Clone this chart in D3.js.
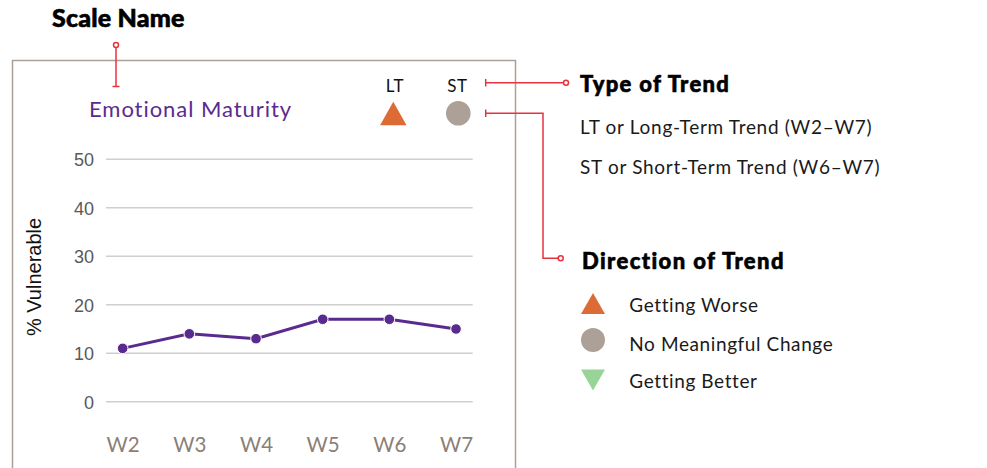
<!DOCTYPE html>
<html><head><meta charset="utf-8">
<script src="https://cdn.jsdelivr.net/npm/d3@7"></script>
<style>body{margin:0;background:#fff}svg{display:block}</style>
</head><body>
<svg id="c" width="987" height="468"></svg>
<script>
const categories = ["W2","W3","W4","W5","W6","W7"];
const values = [11,14,13,17,17,15];
const yTicks = [0,10,20,30,40,50];
const scaleName = "Emotional Maturity";
const trendTypes = ["LT","ST"];
const trendTypeDescriptions = ["LT or Long-Term Trend (W2–W7)","ST or Short-Term Trend (W6–W7)"];
const directionLabels = ["Getting Worse","No Meaningful Change","Getting Better"];
const directionShapes = ["up","circle","down"];
const trendStatus = ["up","circle"]; // LT, ST

const colors = {up:"#dd6b36", circle:"#ada197", down:"#98d398"};
const red = "#e8323e";
const purple = "#5a2b8e";
const lato = "Lato, 'Noto Sans', sans-serif";

const svg = d3.select("#c");

svg.append("rect").attr("x",12.5).attr("y",60.5).attr("width",503).attr("height",430)
  .attr("fill","none").attr("stroke","#aca096").attr("stroke-width",1.5);

const x = d3.scalePoint().domain(categories).range([106,472.7]).padding(0.25);
const y = d3.scaleLinear().domain([0,50]).range([401.7,159.3]);

const yAxis = d3.axisLeft(y).tickValues(yTicks).tickSize(0).tickPadding(12);
const gy = svg.append("g").attr("transform","translate(106,0)").call(yAxis);
gy.select(".domain").remove();
gy.selectAll("text").attr("font-family","'Liberation Sans', Arial, sans-serif").attr("font-size",18).attr("fill","#595959").attr("dy","0.36em");
svg.append("g").selectAll("line").data(yTicks).join("line")
  .attr("x1",106).attr("x2",472.7).attr("y1",d=>y(d)).attr("y2",d=>y(d))
  .attr("stroke","#cfcfcf").attr("stroke-width",1.5);

const xAxis = d3.axisBottom(x).tickSize(0).tickPadding(0);
const gx = svg.append("g").attr("transform","translate(0,451.5)").call(xAxis);
gx.select(".domain").remove();
gx.selectAll("text").attr("font-family",lato).attr("font-size",20.5).attr("fill","#8b7e76").attr("dy",0).attr("y",0);

svg.append("text").attr("transform","translate(41,277) rotate(-90)").attr("text-anchor","middle")
  .attr("font-family","'Liberation Sans', Arial, sans-serif").attr("font-size",20).attr("fill","#111").text("% Vulnerable");

const line = d3.line().x((d,i)=>x(categories[i])).y(d=>y(d));
svg.append("path").datum(values).attr("d",line).attr("fill","none").attr("stroke",purple).attr("stroke-width",3);
svg.append("g").selectAll("circle").data(values).join("circle")
  .attr("cx",(d,i)=>x(categories[i])).attr("cy",d=>y(d)).attr("r",5.3)
  .attr("fill",purple).attr("stroke","#fff").attr("stroke-width",1);

svg.append("text").attr("x",89).attr("y",116.7).attr("font-family",lato).attr("font-size",22)
  .attr("letter-spacing",0.95).attr("fill",purple).text(scaleName);

function drawShape(g, kind, cx, cy, w, h, r){
  if(kind==="circle"){
    g.append("circle").attr("cx",cx).attr("cy",cy).attr("r",r).attr("fill",colors.circle);
  } else {
    const s = kind==="up" ? 1 : -1;
    const pts = [[cx, cy - s*h/2],[cx + w/2, cy + s*h/2],[cx - w/2, cy + s*h/2]];
    g.append("path").attr("d","M"+pts.map(p=>p.join(",")).join("L")+"Z").attr("fill",colors[kind]);
  }
}

const typeX = [395, 457.5];
trendTypes.forEach((t,i)=>{
  svg.append("text").attr("x",typeX[i]).attr("y",91.7).attr("text-anchor","middle")
    .attr("font-family",lato).attr("font-size",17).attr("letter-spacing",0.6).attr("fill","#111").text(t);
});
drawShape(svg, trendStatus[0], 393.3, 113.5, 26.5, 23.5, 0);
drawShape(svg, trendStatus[1], 458.3, 113.3, 0, 0, 12.3);

function heading(xp, yp, size, ls, txt){
  svg.append("text").attr("x",xp).attr("y",yp).attr("font-family",lato).attr("font-weight",900).attr("font-size",size)
    .attr("letter-spacing",ls).attr("fill","#000").attr("stroke","#000").attr("stroke-width",0.6).text(txt);
}
heading(52, 26.7, 25, 0.2, "Scale Name");
const ann = svg.append("g").attr("stroke",red).attr("stroke-width",1.5).attr("fill","#fff");
ann.append("line").attr("x1",116).attr("x2",116).attr("y1",47.5).attr("y2",86.5);
ann.append("line").attr("x1",112.5).attr("x2",119.5).attr("y1",86.5).attr("y2",86.5);
ann.append("circle").attr("cx",116).attr("cy",45).attr("r",2.5);

ann.append("line").attr("x1",485.7).attr("x2",485.7).attr("y1",79).attr("y2",86.5);
ann.append("line").attr("x1",485.7).attr("x2",563.5).attr("y1",82.7).attr("y2",82.7);
ann.append("circle").attr("cx",566).attr("cy",82.7).attr("r",2.5);
ann.append("line").attr("x1",485.7).attr("x2",485.7).attr("y1",109.5).attr("y2",117);
ann.append("path").attr("fill","none").attr("d","M485.7,113.3H543V258.3H558");
ann.append("circle").attr("cx",560.7).attr("cy",258.3).attr("r",2.5);

heading(580, 91.7, 22, 1.3, "Type of Trend");
trendTypeDescriptions.forEach((t,i)=>{
  svg.append("text").attr("x",580).attr("y",134+i*40).attr("font-family",lato).attr("font-size",19)
    .attr("letter-spacing",0.7).attr("fill","#1a1a1a").text(t);
});

heading(582, 269.3, 22, 1.4, "Direction of Trend");
const legY = [303.5, 340, 380];
const labY = [311.5, 350.5, 387.5];
directionLabels.forEach((t,i)=>{
  drawShape(svg, directionShapes[i], 593, legY[i], 24, 21, 12);
  svg.append("text").attr("x",629.3).attr("y",labY[i]).attr("font-family",lato).attr("font-size",19)
    .attr("letter-spacing",0.6).attr("fill","#1a1a1a").text(t);
});
</script>
</body></html>
